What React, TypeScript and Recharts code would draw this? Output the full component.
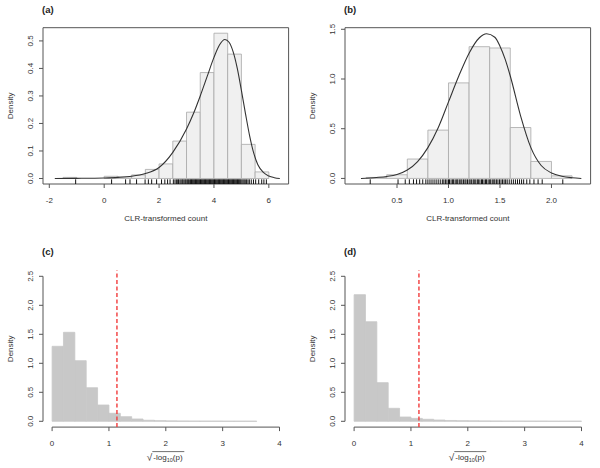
import React from "react";
import {
  ComposedChart,
  XAxis,
  YAxis,
  Line,
  ReferenceArea,
  ReferenceLine,
} from "recharts";

const FONT = "'Liberation Sans', Arial, Helvetica, sans-serif";
const INK = "#333";
const AXIS = "#555";

// (a) CLR-transformed count, bins of width 0.5
const binStartA = [-1.5, 0, 0.5, 1, 1.5, 2, 2.5, 3, 3.5, 4, 4.5, 5, 5.5];
const densityA = [0.004, 0.008, 0.006, 0.013, 0.033, 0.053, 0.136, 0.241, 0.385, 0.528, 0.452, 0.124, 0.024];
const curveXA = [-1.8, -1, 0, 0.5, 1, 1.5, 2, 2.5, 3, 3.25, 3.5, 3.75, 4, 4.2, 4.4, 4.55, 4.7, 4.85, 5, 5.15, 5.3, 5.45, 5.6, 5.8, 6, 6.2, 6.4];
const curveYA = [0, 0.0005, 0.002, 0.004, 0.008, 0.018, 0.04, 0.095, 0.18, 0.235, 0.3, 0.37, 0.44, 0.485, 0.505, 0.495, 0.46, 0.4, 0.32, 0.235, 0.155, 0.092, 0.05, 0.022, 0.009, 0.003, 0];
const rugA = [
  -1.04, 0.27, 0.78, 0.94, 1.18, 1.49, 1.61, 1.73, 1.91, 2.09, 2.21, 2.31, 2.4, 2.52, 2.58,
  2.63, 2.68, 2.71, 2.76, 2.8, 2.84, 2.87, 2.91, 2.95, 2.98, 3.02, 3.05, 3.08, 3.12, 3.15,
  3.18, 3.21, 3.24, 3.27, 3.3, 3.33, 3.36, 3.39, 3.42, 3.45, 3.48, 3.51, 3.54, 3.57, 3.6,
  3.63, 3.66, 3.69, 3.72, 3.75, 3.78, 3.81, 3.84, 3.87, 3.9, 3.93, 3.96, 3.99, 4.02, 4.05,
  4.08, 4.11, 4.14, 4.17, 4.2, 4.23, 4.26, 4.29, 4.32, 4.35, 4.38, 4.41, 4.44, 4.47, 4.5,
  4.53, 4.56, 4.59, 4.62, 4.65, 4.68, 4.71, 4.74, 4.77, 4.8, 4.83, 4.86, 4.89, 4.92, 4.95,
  4.98, 5.02, 5.06, 5.1, 5.14, 5.19, 5.24, 5.29, 5.36, 5.44, 5.52, 5.63, 5.74, 5.82, 5.91,
];
const xTicksA = [-2, 0, 2, 4, 6];
const yTicksA = [0, 0.1, 0.2, 0.3, 0.4, 0.5];

// (b) CLR-transformed count, bins of width 0.2
const binStartB = [0.2, 0.4, 0.6, 0.8, 1.0, 1.2, 1.4, 1.6, 1.8, 2.0];
const densityB = [0.01, 0.037, 0.195, 0.486, 0.961, 1.325, 1.312, 0.512, 0.171, 0.026];
const curveXB = [0.15, 0.3, 0.4, 0.5, 0.6, 0.7, 0.8, 0.9, 1.0, 1.1, 1.2, 1.3, 1.37, 1.45, 1.5, 1.55, 1.6, 1.7, 1.8, 1.9, 2.0, 2.1, 2.2, 2.29];
const curveYB = [0, 0.01, 0.02, 0.04, 0.085, 0.17, 0.31, 0.51, 0.77, 1.03, 1.26, 1.415, 1.455, 1.42, 1.33, 1.2, 1.03, 0.63, 0.31, 0.13, 0.055, 0.022, 0.007, 0];
const rugB = [
  0.24, 0.51, 0.58, 0.62, 0.66, 0.69, 0.72, 0.75, 0.78, 0.8,
  0.82, 0.84, 0.86, 0.88, 0.9, 0.92, 0.94, 0.955, 0.97, 0.985, 1.0, 1.01, 1.025, 1.04, 1.05,
  1.065, 1.08, 1.09, 1.105, 1.12, 1.13, 1.145, 1.16, 1.17, 1.185, 1.2, 1.21, 1.225, 1.24, 1.25,
  1.265, 1.28, 1.29, 1.305, 1.32, 1.33, 1.345, 1.36, 1.37, 1.385, 1.4, 1.41, 1.425, 1.44, 1.45,
  1.465, 1.48, 1.495, 1.51, 1.525, 1.54, 1.555, 1.57, 1.59, 1.61, 1.63, 1.65, 1.67, 1.69, 1.71,
  1.73, 1.76, 1.79, 1.83, 1.87, 1.91, 2.11,
];
const xTicksB = [0.5, 1.0, 1.5, 2.0];
const yTicksB = [0, 0.5, 1.0, 1.5];

// (c) and (d) sqrt(-log10(p)), bins of width 0.2
const binStartC = [0, 0.2, 0.4, 0.6, 0.8, 1.0, 1.2, 1.4, 1.6, 1.8, 2.0, 2.2, 2.4, 2.6, 2.8, 3.0, 3.2, 3.4];
const densityC = [1.293, 1.534, 1.045, 0.579, 0.281, 0.138, 0.08, 0.04, 0.018, 0.011, 0.007, 0.005, 0.004, 0.003, 0.003, 0.002, 0.002, 0.002];
const binStartD = [0, 0.2, 0.4, 0.6, 0.8, 1.0, 1.2, 1.4, 1.6, 1.8, 2.0, 2.2, 2.4, 2.6, 2.8, 3.0, 3.2, 3.4, 3.6, 3.8];
const densityD = [2.183, 1.717, 0.666, 0.224, 0.074, 0.05, 0.035, 0.022, 0.014, 0.01, 0.008, 0.006, 0.005, 0.004, 0.004, 0.003, 0.003, 0.002, 0.002, 0.002];
const cutoffP = 0.05; // line at sqrt(-log10(0.05))
const xTicksP = [0, 1, 2, 3, 4];
const yTicksP = [0, 0.5, 1.0, 1.5, 2.0, 2.5];

type Bin = { x1: number; x2: number; y: number };
type Pt = { x: number; y: number };

const toBins = (starts: number[], dens: number[], w: number): Bin[] =>
  starts.map((s, i) => ({ x1: s, x2: s + w, y: dens[i] }));
const toCurve = (xs: number[], ys: number[]): Pt[] => xs.map((x, i) => ({ x, y: ys[i] }));

const XTick = (props: any) => {
  const { x, y, payload, fmt } = props;
  return (
    <text x={x} y={y + 10} textAnchor="middle" dominantBaseline="central" fontSize={8} fill={INK} fontFamily={FONT}>
      {fmt(payload.value)}
    </text>
  );
};

const YTick = (props: any) => {
  const { x, y, payload, fmt } = props;
  const cx = x - 6;
  return (
    <text
      x={cx}
      y={y}
      transform={`rotate(-90, ${cx}, ${y})`}
      textAnchor="middle"
      dominantBaseline="central"
      fontSize={8}
      fill={INK}
      fontFamily={FONT}
    >
      {fmt(payload.value)}
    </text>
  );
};

const DensityTitle = (props: any) => {
  const { viewBox } = props;
  const cx = 11;
  const cy = viewBox.y + viewBox.height / 2;
  return (
    <text x={cx} y={cy} transform={`rotate(-90, ${cx}, ${cy})`} textAnchor="middle" dominantBaseline="central" fontSize={8} fill={INK} fontFamily={FONT}>
      Density
    </text>
  );
};

const ClrTitle = (props: any) => {
  const { viewBox } = props;
  const cx = viewBox.x + viewBox.width / 2;
  return (
    <text x={cx} y={viewBox.y + 34} textAnchor="middle" dominantBaseline="central" fontSize={8} fill={INK} fontFamily={FONT}>
      CLR-transformed count
    </text>
  );
};

const SqrtTitle = (props: any) => {
  const { viewBox } = props;
  const cx = viewBox.x + viewBox.width / 2;
  const base = viewBox.y + 33;
  return (
    <g fontFamily={FONT} fill={INK}>
      <text x={cx - 19} y={base + 1} fontSize={10}>√</text>
      <line x1={cx - 13.5} x2={cx + 18.5} y1={base - 8.5} y2={base - 8.5} stroke={INK} strokeWidth={0.7} />
      <text x={cx - 12.5} y={base} fontSize={8}>
        -log<tspan fontSize={5.5} dy={2}>10</tspan>
        <tspan dy={-2}>(p)</tspan>
      </text>
    </g>
  );
};

type PanelProps = {
  left: number;
  top: number;
  tag: string;
  marginTop: number;
  plotH: number;
  xDomain: [number, number];
  yDomain: [number, number];
  xTicks: number[];
  yTicks: number[];
  xFmt: (v: number) => string;
  yFmt: (v: number) => string;
  bins: Bin[];
  binFill: string;
  binStroke: string;
  curve?: Pt[];
  rug?: number[];
  rugLen?: number;
  cutoff?: number;
  boxed: boolean;
  xTitle: React.ReactElement;
};

const W = 300;
const H = 234;
const PLOT_W = 245.6;

function Panel(p: PanelProps) {
  const data = p.curve ?? p.bins.map((b) => ({ x: (b.x1 + b.x2) / 2, y: b.y }));
  const xAxisH = H - p.marginTop - p.plotH;
  const [x0, x1] = p.xDomain;
  const [y0, y1] = p.yDomain;
  return (
    <div style={{ position: "absolute", left: p.left, top: p.top, width: W, height: H }}>
      <ComposedChart
        width={W}
        height={H}
        data={data}
        margin={{ top: p.marginTop, right: W - 43 - PLOT_W, bottom: 0, left: 0 }}
      >
        <XAxis
          dataKey="x"
          type="number"
          domain={p.xDomain}
          allowDataOverflow
          ticks={p.xTicks}
          interval={0}
          height={xAxisH}
          tickSize={4}
          tickMargin={2}
          axisLine={false}
          tickLine={{ stroke: AXIS }}
          tick={<XTick fmt={p.xFmt} />}
          label={p.xTitle}
        />
        <YAxis
          type="number"
          domain={p.yDomain}
          allowDataOverflow
          ticks={p.yTicks}
          interval={0}
          width={43}
          tickSize={4}
          tickMargin={2}
          axisLine={false}
          tickLine={{ stroke: AXIS }}
          tick={<YTick fmt={p.yFmt} />}
          label={<DensityTitle />}
        />
        {p.bins.map((b, i) => (
          <ReferenceArea
            key={`bin-${i}`}
            x1={b.x1}
            x2={b.x2}
            y1={0}
            y2={b.y}
            fill={p.binFill}
            fillOpacity={1}
            stroke={p.binStroke}
            strokeWidth={0.8}
            ifOverflow="visible"
          />
        ))}
        {p.boxed && (
          <ReferenceArea x1={x0} x2={x1} y1={y0} y2={y1} fill="none" fillOpacity={0} stroke={AXIS} strokeWidth={1} ifOverflow="visible" />
        )}
        {!p.boxed && (
          <ReferenceLine
            segment={[{ x: p.xTicks[0], y: y0 }, { x: p.xTicks[p.xTicks.length - 1], y: y0 }]}
            stroke={AXIS}
            strokeWidth={1}
            ifOverflow="visible"
          />
        )}
        {!p.boxed && (
          <ReferenceLine
            segment={[{ x: x0, y: p.yTicks[0] }, { x: x0, y: p.yTicks[p.yTicks.length - 1] }]}
            stroke={AXIS}
            strokeWidth={1}
            ifOverflow="visible"
          />
        )}
        {(p.rug ?? []).map((v, i) => (
          <ReferenceLine
            key={`rug-${i}`}
            segment={[{ x: v, y: y0 }, { x: v, y: y0 + (p.rugLen ?? 0) }]}
            stroke="#111"
            strokeWidth={1}
            ifOverflow="visible"
          />
        ))}
        {p.cutoff !== undefined && (
          <ReferenceLine x={p.cutoff} stroke="#f23b3b" strokeWidth={1.4} strokeDasharray="4 2.5" ifOverflow="visible" />
        )}
        {p.curve && (
          <Line dataKey="y" type="monotone" dot={false} stroke={INK} strokeWidth={1.1} isAnimationActive={false} />
        )}
      </ComposedChart>
      <div
        style={{
          position: "absolute",
          left: 42,
          top: p.tag === "(a)" || p.tag === "(b)" ? 4 : 12,
          fontFamily: FONT,
          fontWeight: "bold",
          fontSize: 9.5,
          lineHeight: "11px",
          color: "#222",
        }}
      >
        {p.tag}
      </div>
    </div>
  );
}

const fmt1 = (v: number) => v.toFixed(1);
const fmt0 = (v: number) => String(v);

export default function App() {
  const cutoff = Math.sqrt(-Math.log10(cutoffP));
  return (
    <div style={{ position: "absolute", left: 0, top: 0, width: 600, height: 468, background: "#fff", overflow: "hidden" }}>
      <Panel
        left={0}
        top={0}
        tag="(a)"
        marginTop={27.7}
        plotH={156.3}
        xDomain={[-2.23, 6.72]}
        yDomain={[-0.02, 0.548]}
        xTicks={xTicksA}
        yTicks={yTicksA}
        xFmt={fmt0}
        yFmt={fmt1}
        bins={toBins(binStartA, densityA, 0.5)}
        binFill="#f0f0f0"
        binStroke="#a8a8a8"
        curve={toCurve(curveXA, curveYA)}
        rug={rugA}
        rugLen={0.017}
        boxed
        xTitle={<ClrTitle />}
      />
      <Panel
        left={302}
        top={0}
        tag="(b)"
        marginTop={27.7}
        plotH={156.3}
        xDomain={[-0.005, 2.38]}
        yDomain={[-0.056, 1.516]}
        xTicks={xTicksB}
        yTicks={yTicksB}
        xFmt={fmt1}
        yFmt={fmt1}
        bins={toBins(binStartB, densityB, 0.2)}
        binFill="#f0f0f0"
        binStroke="#a8a8a8"
        curve={toCurve(curveXB, curveYB)}
        rug={rugB}
        rugLen={0.047}
        boxed
        xTitle={<ClrTitle />}
      />
      <Panel
        left={0}
        top={234}
        tag="(c)"
        marginTop={36.5}
        plotH={156.6}
        xDomain={[-0.16, 4.16]}
        yDomain={[-0.1, 2.6]}
        xTicks={xTicksP}
        yTicks={yTicksP}
        xFmt={fmt0}
        yFmt={fmt1}
        bins={toBins(binStartC, densityC, 0.2)}
        binFill="#c8c8c8"
        binStroke="#c8c8c8"
        cutoff={cutoff}
        boxed={false}
        xTitle={<SqrtTitle />}
      />
      <Panel
        left={302}
        top={234}
        tag="(d)"
        marginTop={36.5}
        plotH={156.6}
        xDomain={[-0.16, 4.16]}
        yDomain={[-0.1, 2.6]}
        xTicks={xTicksP}
        yTicks={yTicksP}
        xFmt={fmt0}
        yFmt={fmt1}
        bins={toBins(binStartD, densityD, 0.2)}
        binFill="#c8c8c8"
        binStroke="#c8c8c8"
        cutoff={cutoff}
        boxed={false}
        xTitle={<SqrtTitle />}
      />
    </div>
  );
}
